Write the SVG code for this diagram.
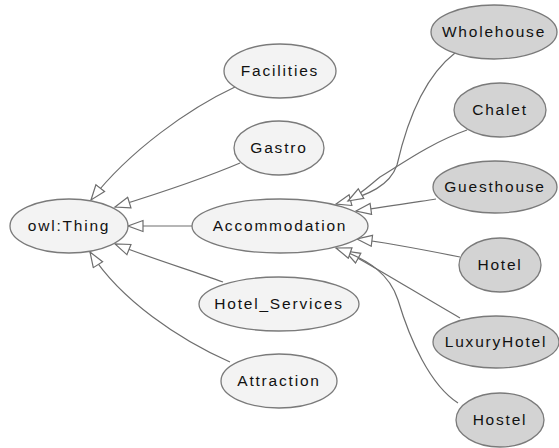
<svg xmlns="http://www.w3.org/2000/svg" width="559" height="448" viewBox="0 0 559 448">
  <style>
    .edge { fill: none; stroke: #6e6e6e; stroke-width: 1.2; marker-end: url(#isa); }
    .node ellipse { stroke: #7a7a7a; stroke-width: 1.3; }
    .cls ellipse { fill: #f3f3f3; }
    .sub ellipse { fill: #d3d3d3; }
    .node text { font-family: "Liberation Sans", Arial, sans-serif; font-size: 15.5px; letter-spacing: 1.8px; fill: #111111; text-anchor: middle; dominant-baseline: central; }
  </style>
  <defs>
    <marker id="isa" markerUnits="userSpaceOnUse" markerWidth="19" markerHeight="15" refX="16" refY="6.5" orient="auto">
      <path d="M1,1 L16,6.5 L1,12 Z" fill="#ffffff" stroke="#6e6e6e" stroke-width="1.2"/>
    </marker>
  </defs>
  <rect width="559" height="448" fill="#ffffff"/>

  <!-- subclass edges -->
  <g id="edges">
    <path class="edge" d="M235,87 C190,108 130,150 91,200"/>
    <path class="edge" d="M240,163 C205,178 160,193 115,207"/>
    <path class="edge" d="M192,226 L128,226"/>
    <path class="edge" d="M223,282 C190,270 150,258 115,244"/>
    <path class="edge" d="M230,362 C180,340 120,300 90,252"/>

    <path class="edge" d="M455,53 C420,80 405,130 397,165 C390,185 370,195 336,204"/>
    <path class="edge" d="M467,130 C430,143 400,165 380,177 C370,185 362,193 348,201"/>
    <path class="edge" d="M436,199 C410,203 385,207 356,211"/>
    <path class="edge" d="M460,257 C425,250 390,243 357,239"/>
    <path class="edge" d="M460,318 C420,295 380,270 345,251"/>
    <path class="edge" d="M458,403 C430,385 410,340 398,300 C390,275 370,260 336,248"/>
  </g>

  <!-- class nodes -->
  <g id="owl-thing" class="node cls"><ellipse cx="69" cy="226" rx="59" ry="27"/><text x="69" y="225">owl:Thing</text></g>
  <g id="facilities" class="node cls"><ellipse cx="280" cy="71" rx="56" ry="27"/><text x="280" y="70">Facilities</text></g>
  <g id="gastro" class="node cls"><ellipse cx="279" cy="148" rx="45" ry="27"/><text x="279" y="147">Gastro</text></g>
  <g id="accommodation" class="node cls"><ellipse cx="280" cy="226" rx="88" ry="27"/><text x="280" y="225">Accommodation</text></g>
  <g id="hotel-services" class="node cls"><ellipse cx="279" cy="304" rx="80" ry="27"/><text x="279" y="303">Hotel_Services</text></g>
  <g id="attraction" class="node cls"><ellipse cx="279" cy="381" rx="58" ry="27"/><text x="279" y="380">Attraction</text></g>

  <!-- accommodation subclasses -->
  <g id="wholehouse" class="node sub"><ellipse cx="494" cy="32" rx="63" ry="27"/><text x="494" y="31">Wholehouse</text></g>
  <g id="chalet" class="node sub"><ellipse cx="500" cy="110" rx="46" ry="27"/><text x="500" y="109">Chalet</text></g>
  <g id="guesthouse" class="node sub"><ellipse cx="495" cy="187" rx="62" ry="26"/><text x="495" y="186">Guesthouse</text></g>
  <g id="hotel" class="node sub"><ellipse cx="500" cy="265" rx="41" ry="27"/><text x="500" y="264">Hotel</text></g>
  <g id="luxuryhotel" class="node sub"><ellipse cx="496" cy="342" rx="63" ry="26"/><text x="496" y="341">LuxuryHotel</text></g>
  <g id="hostel" class="node sub"><ellipse cx="500" cy="420" rx="44" ry="27"/><text x="500" y="419">Hostel</text></g>
</svg>
